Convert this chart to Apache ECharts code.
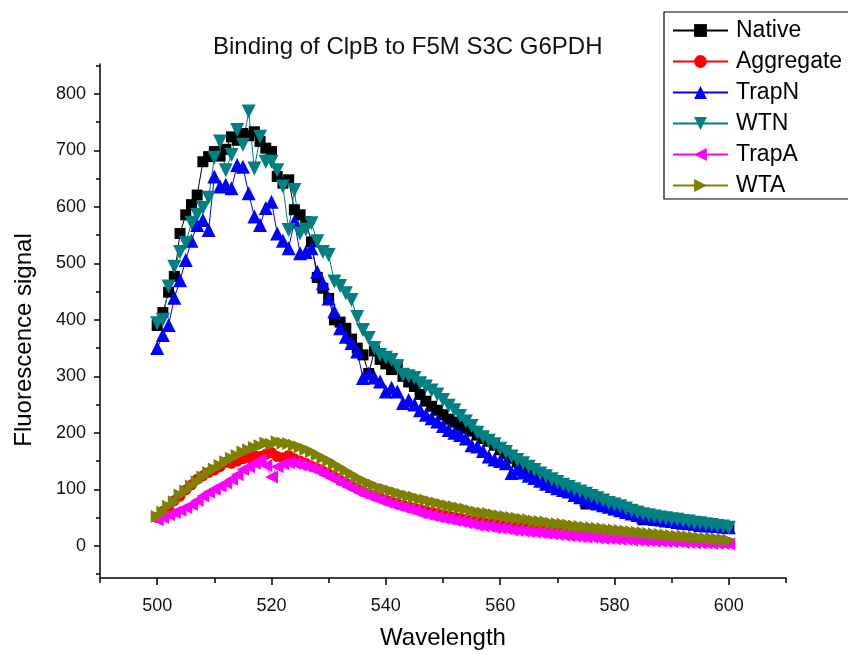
<!DOCTYPE html>
<html>
<head>
<meta charset="utf-8">
<script src="https://cdn.jsdelivr.net/npm/echarts@6/dist/echarts.min.js"></script>
<style>
  html, body { margin: 0; padding: 0; background: #fff; }
  #chart { width: 848px; height: 655px; }
</style>
</head>
<body>
<div id="chart"></div>
<script>
// Emission scan, 500-600 nm in 1 nm steps
const wavelengths = [];
for (let w = 500; w <= 600; w++) wavelengths.push(w);

const native = [
  390, 413, 449, 477, 553, 586, 604, 621, 680, 689,
  698, 690, 702, 724, 718, 730, 726, 733, 716, 704,
  698, 654, 642, 648, 595, 586, 574, 538, 475, 456,
  438, 400, 396, 385, 366, 350, 338, 305, 345, 330,
  322, 312, 320, 300, 290, 282, 268, 256, 247, 240,
  232, 224, 219, 212, 208, 203, 196, 190, 185, 178,
  170, 163, 155, 148, 142, 136, 130, 124, 118, 112,
  106, 100, 96, 90, 84, 74, 78, 76, 71, 68,
  64, 62, 58, 56, 52, 46, 47, 45, 44, 43,
  42, 40, 39, 38, 37, 36, 35, 34, 33, 32, 31
];
const aggregate = [
  50, 61, 68, 80, 88, 99, 108, 118, 124, 130,
  134, 140, 148, 146, 150, 154, 156, 160, 158, 162,
  165, 158, 156, 160, 154, 150, 146, 141, 137, 132,
  127, 122, 116, 111, 106, 101, 96, 92, 88, 85,
  81, 78, 75, 72, 69, 67, 64, 62, 59, 57,
  55, 53, 51, 49, 47, 45, 43, 42, 40, 39,
  37, 36, 35, 33, 32, 31, 30, 29, 28, 27,
  26, 25, 24, 23, 22, 21, 20, 19, 19, 18,
  17, 16, 16, 15, 14, 14, 13, 12, 12, 11,
  11, 10, 10, 9, 9, 8, 8, 7, 7, 6, 6
];
const trapN = [
  350, 373, 391, 439, 470, 506, 540, 568, 577, 559,
  654, 636, 639, 633, 674, 671, 624, 583, 568, 598,
  609, 553, 540, 527, 574, 518, 520, 527, 485, 465,
  438, 415, 385, 370, 359, 344, 297, 305, 298, 291,
  273, 280, 273, 253, 258, 250, 240, 232, 226, 220,
  212, 205, 200, 196, 190, 178, 176, 168, 158, 153,
  150, 146, 129, 136, 130, 124, 120, 115, 110, 106,
  102, 99, 96, 90, 86, 82, 78, 75, 72, 69,
  66, 63, 60, 57, 55, 52, 50, 48, 47, 45,
  44, 42, 41, 40, 39, 37, 36, 36, 35, 34, 33
];
const wtN = [
  394, 400, 459, 494, 520, 536, 572, 586, 598, 616,
  687, 716, 665, 692, 736, 710, 769, 668, 724, 680,
  680, 665, 636, 559, 630, 553, 560, 571, 539, 520,
  515, 468, 460, 447, 435, 405, 382, 368, 350, 338,
  333, 329, 318, 303, 300, 297, 288, 282, 275, 268,
  258, 248, 240, 230, 220, 212, 200, 192, 186, 180,
  172, 166, 158, 152, 146, 140, 134, 128, 123, 118,
  113, 108, 104, 100, 96, 92, 88, 84, 80, 76,
  73, 70, 66, 62, 59, 56, 54, 52, 50, 49,
  47, 46, 44, 43, 41, 40, 38, 37, 35, 34, 32
];
const trapA = [
  46, 50, 55, 59, 63, 68, 73, 80, 88, 95,
  100, 106, 111, 118, 126, 135, 140, 146, 152, 142,
  122, 140, 145, 147, 146, 143, 141, 138, 134, 128,
  123, 118, 113, 107, 102, 97, 93, 89, 85, 81,
  77, 74, 71, 68, 65, 62, 58, 56, 53, 51,
  49, 47, 45, 43, 41, 39, 36, 35, 34, 32,
  31, 30, 28, 27, 26, 25, 24, 23, 22, 21,
  20, 19, 18, 17, 16, 15, 15, 14, 13, 13,
  12, 11, 11, 10, 10, 9, 9, 8, 8, 7,
  7, 7, 6, 6, 5, 5, 5, 4, 4, 4, 3
];
const wtA = [
  52, 60, 70, 78, 90, 97, 106, 113, 122, 130,
  136, 142, 149, 155, 160, 166, 170, 174, 177, 182,
  180, 184, 182, 181, 178, 175, 171, 167, 161, 156,
  151, 145, 139, 133, 127, 121, 116, 111, 107, 103,
  100, 97, 94, 91, 88, 86, 83, 81, 78, 76,
  73, 71, 69, 67, 65, 62, 60, 58, 57, 55,
  53, 52, 50, 49, 47, 46, 44, 43, 42, 40,
  39, 38, 37, 35, 34, 33, 32, 31, 30, 29,
  28, 27, 26, 25, 24, 23, 22, 21, 20, 19,
  18, 17, 17, 16, 15, 14, 13, 13, 12, 11, 10
];

const xTickLabels = [500, 520, 540, 560, 580, 600];
const xMinorTicks = [490, 510, 530, 550, 570, 590, 610];
const yTickLabels = [0, 100, 200, 300, 400, 500, 600, 700, 800];
const yMinorTicks = [-50, 50, 150, 250, 350, 450, 550, 650, 750, 850];

const FONT = '"Liberation Sans", Arial, sans-serif';

function pairs(values) {
  return wavelengths.map((w, i) => [w, values[i]]);
}

function makeSeries(name, values, color, symbol, size, rotate) {
  return {
    name: name,
    type: 'line',
    data: pairs(values),
    symbol: symbol,
    symbolSize: size,
    symbolRotate: rotate || 0,
    showAllSymbol: true,
    animation: false,
    lineStyle: { color: color, width: 1 },
    itemStyle: { color: color, borderWidth: 0 },
    emphasis: { disabled: true },
    xAxisIndex: 0,
    yAxisIndex: 0
  };
}

const chart = echarts.init(document.getElementById('chart'), null, { renderer: 'canvas' });

const axisLineStyle = { color: '#000', width: 1.5 };

chart.setOption({
  animation: false,
  backgroundColor: '#fff',
  title: {
    text: 'Binding of ClpB to F5M S3C G6PDH',
    left: 208,
    top: 29,
    textStyle: { fontFamily: FONT, fontSize: 24, fontWeight: 'normal', color: '#111', lineHeight: 26 }
  },
  legend: {
    orient: 'vertical',
    left: 664,
    top: 12,
    padding: [7, 30, 2, 8],
    itemWidth: 55,
    itemHeight: 16,
    itemGap: 8,
    borderColor: '#000',
    borderWidth: 1.2,
    borderRadius: 0,
    textStyle: { fontFamily: FONT, fontSize: 23, lineHeight: 23, color: '#000', padding: [0, 0, 0, 3] },
    data: ['Native', 'Aggregate', 'TrapN', 'WTN', 'TrapA', 'WTA']
  },
  grid: { left: 100, right: 62, top: 64, bottom: 77, containLabel: false },
  xAxis: [
    {
      type: 'value', min: 490, max: 610,
      name: 'Wavelength', nameLocation: 'middle', nameGap: 48,
      nameTextStyle: { fontFamily: FONT, fontSize: 24, color: '#000' },
      axisLine: { show: true, onZero: false, lineStyle: axisLineStyle },
      axisTick: { show: true, inside: false, length: 7, customValues: xTickLabels, lineStyle: axisLineStyle },
      axisLabel: { customValues: xTickLabels, margin: 19, fontFamily: FONT, fontSize: 18, color: '#111' },
      splitLine: { show: false }
    },
    {
      type: 'value', min: 490, max: 610, position: 'bottom',
      axisLine: { show: false, onZero: false },
      axisTick: { show: true, inside: false, length: 5, customValues: xMinorTicks, lineStyle: axisLineStyle },
      axisLabel: { show: false },
      splitLine: { show: false }
    }
  ],
  yAxis: [
    {
      type: 'value', min: -57, max: 853,
      name: 'Fluorescence signal', nameLocation: 'middle', nameGap: 64,
      nameTextStyle: { fontFamily: FONT, fontSize: 24, color: '#000', padding: [0, 38, 0, 0] },
      axisLine: { show: true, onZero: false, lineStyle: axisLineStyle },
      axisTick: { show: true, inside: false, length: 6, customValues: yTickLabels, lineStyle: axisLineStyle },
      axisLabel: { customValues: yTickLabels, margin: 14, fontFamily: FONT, fontSize: 18, color: '#111' },
      splitLine: { show: false }
    },
    {
      type: 'value', min: -57, max: 853, position: 'left',
      axisLine: { show: false, onZero: false },
      axisTick: { show: true, inside: false, length: 4, customValues: yMinorTicks, lineStyle: axisLineStyle },
      axisLabel: { show: false },
      splitLine: { show: false }
    }
  ],
  series: [
    makeSeries('Native', native, '#000000', 'rect', 11),
    makeSeries('Aggregate', aggregate, '#ff0000', 'circle', 11),
    makeSeries('TrapN', trapN, '#0000ff', 'triangle', 14),
    makeSeries('WTN', wtN, '#008080', 'triangle', 14, 180),
    makeSeries('TrapA', trapA, '#ff00ff', 'triangle', 13, 90),
    makeSeries('WTA', wtA, '#808000', 'triangle', 13, -90)
  ]
});
</script>
</body>
</html>
